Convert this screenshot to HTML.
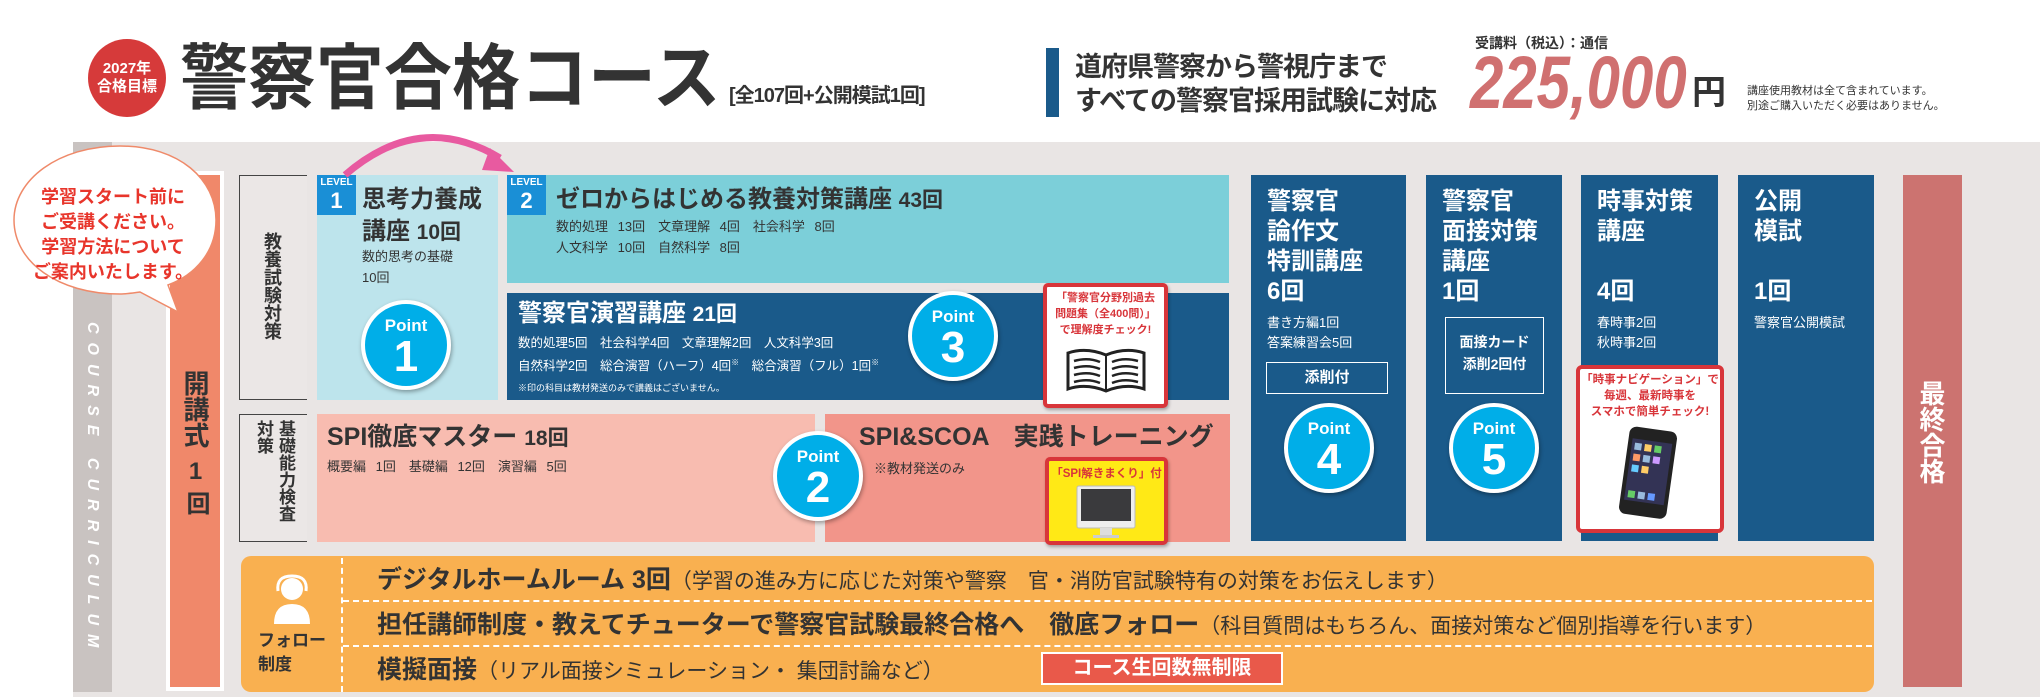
<!DOCTYPE html>
<html><head><meta charset="utf-8">
<style>
*{margin:0;padding:0;box-sizing:border-box}
body{width:2040px;height:700px;background:#fff;position:relative;overflow:hidden;font-family:"Liberation Sans","Noto Sans CJK JP",sans-serif;color:#333}
.a{position:absolute}
.b{font-weight:bold}
.nv{background:#1a5a8a;color:#fff}
.pt{position:absolute;width:90px;height:90px;border-radius:50%;background:#00aee8;border:4px solid #fff;box-shadow:1px 2px 4px rgba(0,0,0,.35);color:#fff;text-align:center;font-weight:bold}
.pt .p{font-size:17px;margin-top:13px;line-height:18px}
.pt .n{font-size:44px;line-height:44px}
.lv{position:absolute;width:39px;height:40px;background:#1a8fd6;color:#fff;text-align:center;font-weight:bold}
.lv .l{font-size:10px;line-height:12px;margin-top:2px}
.lv .n{font-size:22px;line-height:24px}
.col{position:absolute;top:175px;height:366px;background:#1a5a8a;color:#fff;padding-left:16px}
.col .t{font-size:24px;font-weight:bold;line-height:30px;margin-top:12px}
.col .s{font-size:13px;line-height:20px}
.dash{position:absolute;border-top:2px dashed #fff}
.vt{writing-mode:vertical-rl;text-orientation:upright;white-space:nowrap}
</style></head><body>

<!-- header -->
<div class="a" style="left:88px;top:39px;width:78px;height:78px;border-radius:50%;background:#d63a3a;color:#fff;text-align:center;font-weight:bold;font-size:15px;line-height:18px;padding-top:21px">2027年<br>合格目標</div>
<div class="a b" style="left:180px;top:44px;font-size:68px;line-height:67px;letter-spacing:0px;color:#333;white-space:nowrap;transform:scaleY(1.05);transform-origin:left top">警察官合格コース</div>
<div class="a b" style="left:729px;top:84px;font-size:20px;line-height:24px;letter-spacing:-1px;color:#333;white-space:nowrap">[全107回+公開模試1回]</div>

<div class="a" style="left:1046px;top:48px;width:13px;height:69px;background:#1a5a8a"></div>
<div class="a b" style="left:1075px;top:50px;font-size:27px;line-height:34px;letter-spacing:-1px;color:#333">道府県警察から警視庁まで<br>すべての警察官採用試験に対応</div>
<div class="a b" style="left:1475px;top:33px;font-size:14px;color:#333">受講料（税込）：通信</div>
<div class="a b" style="left:1470px;top:46px;font-size:74px;line-height:74px;font-style:italic;color:#d07070;transform:scaleX(.81);transform-origin:left top">225,000</div>
<div class="a b" style="left:1692px;top:74px;font-size:34px;line-height:38px;color:#333">円</div>
<div class="a" style="left:1747px;top:84px;font-size:11px;line-height:15px;color:#333">講座使用教材は全て含まれています。<br>別途ご購入いただく必要はありません。</div>

<!-- panel -->
<div class="a" style="left:73px;top:142px;width:1967px;height:555px;background:#e9e5e4"></div>
<div class="a" style="left:73px;top:142px;width:39px;height:550px;background:#c9c3c1"></div>
<div class="a b" style="left:83px;top:322px;writing-mode:vertical-rl;white-space:nowrap;color:#fff;font-size:16px;font-style:italic;letter-spacing:9px">COURSE CURRICULUM</div>

<!-- opening -->
<div class="a" style="left:166px;top:171px;width:58px;height:520px;background:#fff"></div>
<div class="a" style="left:170px;top:175px;width:50px;height:512px;background:#f0886a"></div>
<div class="a b vt" style="left:181px;top:370px;font-size:26px;line-height:28px">開講式</div>
<div class="a b vt" style="left:182px;top:458px;font-size:24px;line-height:26px;letter-spacing:6px">1回</div>

<!-- bubble -->
<svg class="a" style="left:8px;top:140px" width="224" height="180">
<path d="M112 6 C172 6 208 40 208 80 C208 112 187 135 160 145 L170 172 L132 152 C125 153 118 154 112 154 C50 154 6 122 6 80 C6 40 50 6 112 6 Z" fill="#fff" stroke="#ef8a6a" stroke-width="1.5"/>
</svg>
<div class="a b" style="left:20px;top:185px;width:186px;text-align:center;color:#e8352b;font-size:18px;line-height:25px">学習スタート前に<br>ご受講ください。<br>学習方法について<br>ご案内いたします。</div>

<!-- label boxes -->
<div class="a" style="left:239px;top:175px;width:68px;height:225px;background:#ebe7e6;border:1.5px solid #444;border-right:none"></div>
<div class="a b vt" style="left:262px;top:232px;font-size:18px;line-height:20px">教養試験対策</div>
<div class="a" style="left:239px;top:414px;width:68px;height:128px;background:#ebe7e6;border:1.5px solid #444;border-right:none"></div>
<div class="a b" style="left:252px;top:420px;writing-mode:vertical-rl;font-size:17px;line-height:22px;height:120px">基礎能力検査<br>対策</div>

<!-- level 1 -->
<div class="a" style="left:317px;top:175px;width:181px;height:225px;background:#bde4ec"></div>
<div class="lv" style="left:317px;top:175px"><div class="l">LEVEL</div><div class="n">1</div></div>
<div class="a b" style="left:362px;top:184px;font-size:24px;line-height:32px">思考力養成<br>講座 <span style="font-size:21px">10回</span></div>
<div class="a" style="left:362px;top:246px;font-size:13px;line-height:21px">数的思考の基礎<br>10回</div>
<div class="pt" style="left:361px;top:300px"><div class="p">Point</div><div class="n">1</div></div>

<!-- level 2 -->
<div class="a" style="left:507px;top:175px;width:722px;height:108px;background:#7ccfd9"></div>
<div class="lv" style="left:507px;top:175px"><div class="l">LEVEL</div><div class="n">2</div></div>
<div class="a b" style="left:556px;top:186px;font-size:24px;line-height:28px">ゼロからはじめる教養対策講座 <span style="font-size:21px">43回</span></div>
<div class="a" style="left:556px;top:216px;font-size:13px;line-height:21px;word-spacing:6px">数的処理 13回　文章理解 4回　社会科学 8回<br>人文科学 10回　自然科学 8回</div>

<div class="a nv" style="left:507px;top:293px;width:722px;height:107px"></div>
<div class="a b" style="left:518px;top:300px;font-size:24px;line-height:28px;color:#fff">警察官演習講座 <span style="font-size:21px">21回</span></div>
<div class="a" style="left:518px;top:333px;font-size:12.5px;line-height:20px;color:#fff">数的処理5回　社会科学4回　文章理解2回　人文科学3回<br>自然科学2回　総合演習（ハーフ）4回<sup style="font-size:8px">※</sup>　総合演習（フル）1回<sup style="font-size:8px">※</sup></div>
<div class="a" style="left:518px;top:381px;font-size:9px;color:#fff">※印の科目は教材発送のみで講義はございません。</div>
<div class="pt" style="left:908px;top:291px"><div class="p">Point</div><div class="n">3</div></div>

<div class="a" style="left:1043px;top:283px;width:125px;height:125px;background:#fff;border:4px solid #d8353a;border-radius:5px;box-shadow:1px 2px 3px rgba(0,0,0,.3)"></div>
<div class="a b" style="left:1047px;top:290px;width:117px;text-align:center;color:#d8353a;font-size:11px;line-height:16px">「警察官分野別過去<br>問題集（全400問）」<br>で理解度チェック!</div>
<svg class="a" style="left:1064px;top:345px" width="84" height="50"><path d="M4 44 L4 8 Q22 2 42 10 Q62 2 80 8 L80 44 Q62 38 42 46 Q22 38 4 44Z" fill="#fff" stroke="#222" stroke-width="3"/><line x1="42" y1="10" x2="42" y2="46" stroke="#222" stroke-width="2"/><g stroke="#222" stroke-width="2.5" fill="none"><path d="M10 16 Q24 12 36 17M10 23 Q24 19 36 24M10 30 Q24 26 36 31M10 37 Q24 33 36 38M48 17 Q60 12 74 16M48 24 Q60 19 74 23M48 31 Q60 26 74 30M48 38 Q60 33 74 37"/></g></svg>

<!-- SPI -->
<div class="a" style="left:317px;top:414px;width:498px;height:128px;background:#f8bcb0"></div>
<div class="a b" style="left:327px;top:422px;font-size:25px;line-height:30px">SPI徹底マスター <span style="font-size:21px">18回</span></div>
<div class="a" style="left:327px;top:456px;font-size:13px;word-spacing:6px">概要編 1回　基礎編 12回　演習編 5回</div>
<div class="a" style="left:825px;top:414px;width:405px;height:128px;background:#f2958a"></div>
<div class="a b" style="left:859px;top:422px;font-size:25px;line-height:30px">SPI&amp;SCOA　実践トレーニング</div>
<div class="a" style="left:874px;top:458px;font-size:13px">※教材発送のみ</div>
<div class="pt" style="left:773px;top:431px"><div class="p">Point</div><div class="n">2</div></div>
<div class="a" style="left:1045px;top:457px;width:123px;height:88px;background:#ffe916;border:4px solid #d8353a;border-radius:5px;box-shadow:1px 2px 3px rgba(0,0,0,.3)"></div>
<div class="a b" style="left:1049px;top:465px;width:115px;text-align:center;color:#d8353a;font-size:11.5px">「SPI解きまくり」付</div>
<svg class="a" style="left:1075px;top:484px" width="62" height="56"><rect x="2" y="2" width="58" height="42" rx="2" fill="#eee" stroke="#bbb"/><rect x="6" y="5" width="50" height="32" fill="#3a3a3d"/><rect x="25" y="44" width="12" height="8" fill="#ddd"/><rect x="18" y="51" width="26" height="3" fill="#ccc"/></svg>

<!-- columns -->
<div class="col" style="left:1251px;width:155px"><div class="t">警察官<br>論作文<br>特訓講座<br>6回</div><div class="s" style="margin-top:6px">書き方編1回<br>答案練習会5回</div></div>
<div class="a b" style="left:1266px;top:362px;width:122px;height:32px;border:1.5px solid #fff;color:#fff;text-align:center;font-size:15px;line-height:29px">添削付</div>
<div class="pt" style="left:1284px;top:403px"><div class="p">Point</div><div class="n">4</div></div>

<div class="col" style="left:1426px;width:136px"><div class="t">警察官<br>面接対策<br>講座<br>1回</div></div>
<div class="a b" style="left:1445px;top:317px;width:99px;height:77px;border:1.5px solid #fff;color:#fff;text-align:center;font-size:14px;line-height:22px;padding-top:13px">面接カード<br>添削2回付</div>
<div class="pt" style="left:1449px;top:403px"><div class="p">Point</div><div class="n">5</div></div>

<div class="col" style="left:1581px;width:137px"><div class="t">時事対策<br>講座<br><br>4回</div><div class="s" style="margin-top:6px">春時事2回<br>秋時事2回</div></div>
<div class="a" style="left:1576px;top:365px;width:148px;height:168px;background:#fff;border:4px solid #d8353a;border-radius:6px"></div>
<div class="a b" style="left:1580px;top:372px;width:140px;text-align:center;color:#d8353a;font-size:11.5px;line-height:16px">「時事ナビゲーション」で<br>毎週、最新時事を<br>スマホで簡単チェック!</div>
<svg class="a" style="left:1610px;top:425px" width="80" height="96"><g transform="rotate(8 40 48)"><rect x="14" y="4" width="48" height="88" rx="7" fill="#222"/><rect x="18" y="16" width="40" height="62" fill="#335"/><g fill="#9bd"><rect x="21" y="20" width="7" height="7"/><rect x="31" y="20" width="7" height="7" fill="#fc6"/><rect x="41" y="20" width="7" height="7" fill="#6c6"/><rect x="21" y="31" width="7" height="7" fill="#f96"/><rect x="31" y="31" width="7" height="7"/><rect x="41" y="31" width="7" height="7" fill="#c9f"/><rect x="21" y="42" width="7" height="7" fill="#6cf"/><rect x="31" y="42" width="7" height="7" fill="#fc6"/><rect x="21" y="68" width="7" height="7" fill="#6c6"/><rect x="31" y="68" width="7" height="7"/><rect x="41" y="68" width="7" height="7" fill="#69f"/></g></g></svg>

<div class="col" style="left:1738px;width:136px"><div class="t">公開<br>模試<br><br>1回</div><div class="s" style="margin-top:6px">警察官公開模試</div></div>

<!-- final -->
<div class="a" style="left:1903px;top:175px;width:59px;height:512px;background:#cc7370"></div>
<div class="a b vt" style="left:1917px;top:380px;color:#fff;font-size:26px;line-height:28px">最終合格</div>

<!-- follow -->
<div class="a" style="left:241px;top:556px;width:1633px;height:136px;background:#f9b050;border-radius:10px"></div>
<div class="a" style="left:341px;top:558px;height:134px;border-left:2px dashed #fff"></div>
<div class="dash" style="left:343px;top:600px;width:1529px"></div>
<div class="dash" style="left:343px;top:645px;width:1529px"></div>
<svg class="a" style="left:272px;top:574px" width="40" height="52"><circle cx="20" cy="15" r="11" fill="#fff"/><path d="M6 17 Q4 2 20 2 Q36 2 34 17" fill="none" stroke="#fff" stroke-width="3"/><path d="M2 50 Q2 30 20 30 Q38 30 38 50Z" fill="#fff"/></svg>
<div class="a b" style="left:258px;top:629px;font-size:17px;line-height:24px">フォロー<br>制度</div>
<div class="a" style="left:377px;top:564px;font-size:21px;line-height:32px;white-space:nowrap"><b style="font-size:25px">デジタルホームルーム 3回</b>（学習の進み方に応じた対策や警察　官・消防官試験特有の対策をお伝えします）</div>
<div class="a" style="left:377px;top:609px;font-size:21px;line-height:32px;white-space:nowrap"><b style="font-size:25px">担任講師制度・教えてチューターで警察官試験最終合格へ　徹底フォロー</b>（科目質問はもちろん、面接対策など個別指導を行います）</div>
<div class="a" style="left:377px;top:654px;font-size:21px;line-height:32px;white-space:nowrap"><b style="font-size:25px">模擬面接</b>（リアル面接シミュレーション・ 集団討論など）</div>
<div class="a b" style="left:1041px;top:652px;width:242px;height:33px;background:#e9594a;border:2px solid #fff;color:#fff;text-align:center;font-size:20px;line-height:29px">コース生回数無制限</div>

<!-- arrow -->
<svg class="a" style="left:330px;top:120px" width="200" height="70"><path d="M15 55 Q90 -10 170 38" fill="none" stroke="#e85aa0" stroke-width="7"/><path d="M160 28 L184 52 L152 50Z" fill="#e85aa0"/></svg>
</body></html>
